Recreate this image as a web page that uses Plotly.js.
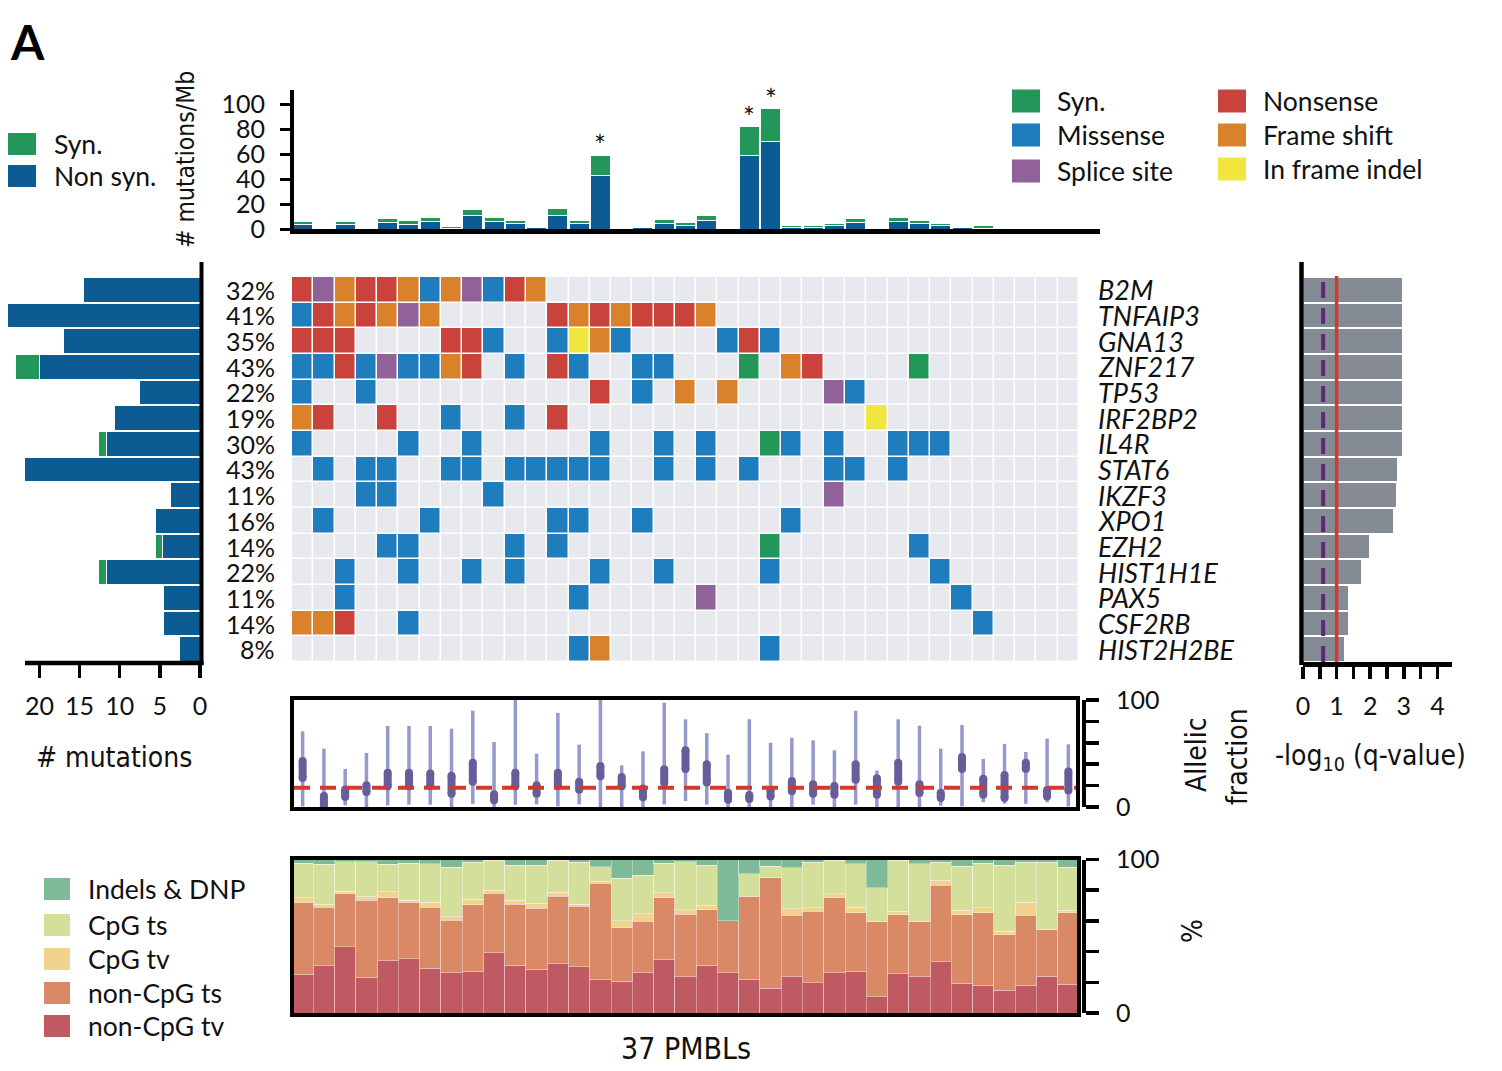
<!DOCTYPE html>
<html><head><meta charset="utf-8">
<script src="https://cdn.plot.ly/plotly-3.0.1.min.js"></script>
<style>html,body{margin:0;padding:0;background:#fff;} #chart{width:1502px;height:1071px;}</style>
</head><body><div id="chart"></div>
<script>
// ---------------- DATA ----------------
const samples = [1,2,3,4,5,6,7,8,9,10,11,12,13,14,15,16,17,18,19,20,21,22,23,24,25,26,27,28,29,30,31,32,33,34,35,36,37];
// mutations / Mb per sample
const tmbNonSyn = [4,0,3.5,0.5,5.3,3.7,6.1,0.5,10.7,6.4,4.5,1.6,10.7,4.3,43,0,1,4.8,2.7,6.7,0,59,70.4,1.3,1.3,3,5.6,0,6.1,4.5,3,1,0.8,0.3,0,0,0];
const tmbSyn    = [2,0,2.5,0.5,3,3,3.2,1.5,4.8,2.6,2.7,0,6.1,2.4,16,0,1.4,2.7,2.3,4.3,0,23,26,1.9,1.7,1.8,2.9,0,3.5,2.2,1.8,0,2.4,0.5,0,0,0];
const hypermutated = [15,22,23];

const genes = ['B2M','TNFAIP3','GNA13','ZNF217','TP53','IRF2BP2','IL4R','STAT6','IKZF3','XPO1','EZH2','HIST1H1E','PAX5','CSF2RB','HIST2H2BE'];
const genePct = ['32%','41%','35%','43%','22%','19%','30%','43%','11%','16%','14%','22%','11%','14%','8%'];
// sample:type  (G syn, M missense, S splice, N nonsense, F frame shift, I in frame indel)
const mut_B2M = '1N 2S 3F 4N 5N 6F 7M 8F 9S 10M 11N 12F';
const mut_TNFAIP3 = '1M 2N 3F 4N 5F 6S 7F 13N 14F 15N 16F 17N 18N 19N 20F';
const mut_GNA13 = '1N 2N 3N 8N 9N 10M 13M 14I 15F 16M 21M 22N 23M';
const mut_ZNF217 = '1M 2M 3N 4M 5S 6M 7M 8F 9N 11M 13N 14M 17M 18M 22G 24F 25N 30G';
const mut_TP53 = '1M 4M 15N 17M 19F 21F 26S 27M';
const mut_IRF2BP2 = '1F 2N 5N 8M 11M 13N 28I';
const mut_IL4R = '1M 6M 9M 15M 18M 20M 23G 24M 26M 29M 30M 31M';
const mut_STAT6 = '2M 4M 5M 8M 9M 11M 12M 13M 14M 15M 18M 20M 22M 26M 27M 29M';
const mut_IKZF3 = '4M 5M 10M 26S';
const mut_XPO1 = '2M 7M 13M 14M 17M 24M';
const mut_EZH2 = '5M 6M 11M 13M 23G 30M';
const mut_HIST1H1E = '3M 6M 9M 11M 15M 18M 23M 31M';
const mut_PAX5 = '3M 14M 20S 32M';
const mut_CSF2RB = '1F 2F 3N 6M 33M';
const mut_HIST2H2BE = '14M 15F 23M';
const geneMuts = [mut_B2M,mut_TNFAIP3,mut_GNA13,mut_ZNF217,mut_TP53,mut_IRF2BP2,mut_IL4R,mut_STAT6,mut_IKZF3,mut_XPO1,mut_EZH2,mut_HIST1H1E,mut_PAX5,mut_CSF2RB,mut_HIST2H2BE];

// # mutations per gene
const geneNonSyn = [14.5,24,17,20,7.5,10.7,11.7,21.8,3.7,5.5,4.7,11.7,4.5,4.5,2.5];
const geneSyn    = [0,0,0,3,0,0,1,0,0,0,0.9,1,0,0,0];
// -log10(q-value)
const geneQ = [2.95,2.95,2.95,2.95,2.95,2.95,2.95,2.81,2.78,2.70,1.99,1.73,1.34,1.34,1.23];
const qCut = 1.0, qCut2 = 0.6;

// allelic fraction (%)
const afMin = [0.6,0,1.5,0,1.5,2.2,2.2,0,3,0,2.2,2.5,0.6,2.5,0,0,0,2.5,5.6,2.2,0,0,0,0,2.2,0,2.2,0,0,0,1.2,0.6,4.4,3,3,4.4,0.6];
const afQ1  = [23.4,-2,5.6,10.3,15.6,15.6,16,8.7,20,2.5,15.6,8.7,15.6,12.5,25,15.6,5.3,18.7,31.8,19.3,3,3.7,6.2,11,8.7,7.8,21.8,7.8,20,9.3,4.7,31.8,7.8,4.7,31.8,6.2,11.8];
const afQ3  = [46.7,14,20,24,35.8,35.8,35,33,45,15.6,35.8,24,35.8,27.4,42,31.8,21,39,56.7,43.6,17,15,19.6,28,25,23.4,43.6,30.5,45,25,17,50.5,30,33.6,45,19.6,36.8];
const afMax = [70.7,54.5,35.5,50.5,75.7,75.7,75.7,73.2,90,60.7,100,49.8,88,58.3,100,39,52,97.5,82,69,49,82,60,64.8,62.3,53,90,34,82,76,54.5,76.6,45,59,51.4,64,58.6];
const afCut = 18;

// mutation spectrum (%)
const specNonCpGtv = [25.1,30.7,43.1,22.9,34.0,35.3,29.0,26.2,27.1,39.2,31.0,28.4,32.0,30.1,21.6,20.8,26.2,34.8,23.6,31.2,26.2,21.9,16.0,23.6,19.7,26.2,27.1,10.6,25.5,23.6,33.5,19.3,18.2,14.9,18.2,24.0,18.8];
const specNonCpGts = [46.8,38.1,34.6,50.5,41.1,36.8,40.0,34.2,43.5,38.9,39.8,40.0,44.2,39.6,63.0,34.8,33.5,40.3,40.7,36.1,33.8,54.3,72.5,40.0,46.5,48.9,38.1,48.7,38.4,35.7,49.8,44.6,47.0,36.0,45.4,30.3,46.4];
const specCpGtv    = [3.2,2.0,1.7,2.4,3.9,1.3,3.3,2.2,3.4,1.8,2.6,3.2,2.4,1.3,1.3,4.4,5.0,3.3,3.0,2.8,0,0,0,4.4,2.4,2.6,3.8,0,2.3,0,3.1,3.0,3.4,2.3,8.7,0,1.7];
const specCpGts    = [22.5,26.0,19.1,22.7,17.8,24.2,24.9,32.4,24.3,19.5,22.9,24.7,20.8,27.3,9.3,27.9,24.9,19.2,31.4,26.2,0,14.5,7.2,26.6,29.7,21.7,28.2,22.3,33.2,37.9,11.9,28.8,29.0,42.9,26.0,44.0,28.1];
const specIndel    = [2.4,3.2,1.5,1.5,3.2,2.4,2.8,5.0,1.7,0.6,3.7,3.7,0.6,1.7,4.8,12.1,10.4,2.4,1.3,3.7,40.0,9.3,4.3,5.4,1.7,0.6,2.8,18.4,0.6,2.8,1.7,4.3,2.4,3.9,1.7,1.7,5.0];

// ---------------- STYLE / GEOMETRY ----------------
const W = 1502, H = 1071;
const COL_PITCH = 21.27, COL_LEFT = 292;
const xr = (a,b)=>[(a-COL_LEFT)/COL_PITCH+0.5,(b-COL_LEFT)/COL_PITCH+0.5];
const dx = (a,b)=>[a/W,b/W];
const dy = (t,b)=>[1-b/H,1-t/H];
const px = x=>x/W, py = y=>1-y/H;
const FONT = 'Lato, "Noto Sans", sans-serif';
const COND = '"Liberation Sans Narrow", "DejaVu Sans Condensed", "Roboto Condensed", Lato, sans-serif';
const C = {syn:'#23965a', nonsyn:'#0c5b92', mis:'#1f7dbd', spl:'#91629a', non:'#c9423c', fs:'#d9822b', inf:'#f1e640', empty:'#e8e9ef',
  grey:'#848b94', red:'#d23a2e', purple:'#5b2a72', afLight:'#949acc', afDark:'#685d9b',
  ntv:'#c05a62', nts:'#d98966', ctv:'#f1d28f', cts:'#d5df9c', ind:'#7eb998'};
const typeCodes = ['.','G','M','S','N','F','I'];
const typeColors = [C.empty,C.syn,C.mis,C.spl,C.non,C.fs,C.inf];
const rows = genes.map((g,i)=>i);

// heatmap matrix
const z = geneMuts.map(s=>{
  const r = samples.map(()=>0);
  s.split(' ').forEach(t=>{ const col=parseInt(t,10); r[col-1]=typeCodes.indexOf(t.replace(/[0-9]/g,'')); });
  return r;
});
const cs = [];
typeColors.forEach((c,k)=>{ cs.push([k/7,c]); cs.push([(k+1)/7,c]); });

// allelic fraction segments
const RAD = 3.7;
const afRX=[], afRY=[], afQX=[], afQY=[];
samples.forEach((s,i)=>{
  afRX.push(s,s,null); afRY.push(afMin[i],afMax[i],null);
  let a=afQ1[i]+RAD, b=afQ3[i]-RAD; if(b<a){const m=(afQ1[i]+afQ3[i])/2;a=m;b=m;}
  afQX.push(s,s,null); afQY.push(a,b,null);
});

const traces = [
  {type:'bar', x:samples, y:tmbNonSyn, xaxis:'x', yaxis:'y', width:0.94, marker:{color:C.nonsyn, line:{color:'#fff',width:1}}, hoverinfo:'skip'},
  {type:'bar', x:samples, y:tmbSyn, xaxis:'x', yaxis:'y', width:0.94, marker:{color:C.syn, line:{color:'#fff',width:1}}, hoverinfo:'skip'},
  {type:'heatmap', x:samples, y:rows, z:z, xaxis:'x2', yaxis:'y2', colorscale:cs, zmin:-0.5, zmax:6.5, showscale:false, xgap:1.5, ygap:1.5, hoverinfo:'skip'},
  {type:'bar', orientation:'h', y:rows, x:geneNonSyn, xaxis:'x3', yaxis:'y3', width:0.95, marker:{color:C.nonsyn, line:{color:'#fff',width:1}}, hoverinfo:'skip'},
  {type:'bar', orientation:'h', y:rows, x:geneSyn, xaxis:'x3', yaxis:'y3', width:0.95, marker:{color:C.syn, line:{color:'#fff',width:1}}, hoverinfo:'skip'},
  {type:'bar', orientation:'h', y:rows, x:geneQ, xaxis:'x4', yaxis:'y4', width:0.95, marker:{color:C.grey, line:{color:'#fff',width:1}}, hoverinfo:'skip'},
  {type:'scatter', mode:'lines', x:afRX, y:afRY, xaxis:'x5', yaxis:'y5', line:{color:C.afLight,width:3.5}, hoverinfo:'skip'},
  {type:'scatter', mode:'lines+markers', x:afQX, y:afQY, xaxis:'x5', yaxis:'y5', line:{color:C.afDark,width:8}, marker:{color:C.afDark,size:8}, hoverinfo:'skip'},
  {type:'scatter', mode:'markers', x:[1], y:[0], xaxis:'x5', yaxis:'y6', marker:{opacity:0}, hoverinfo:'skip'},
];
const specSeries = [[specNonCpGtv,C.ntv],[specNonCpGts,C.nts],[specCpGtv,C.ctv],[specCpGts,C.cts],[specIndel,C.ind]];
specSeries.forEach(([v,c])=>traces.push({type:'bar', x:samples, y:v, xaxis:'x7', yaxis:'y7', width:1, marker:{color:c, line:{color:'rgba(255,255,255,0.35)',width:1}}, hoverinfo:'skip'}));
traces.push({type:'scatter', mode:'markers', x:[1], y:[0], xaxis:'x7', yaxis:'y8', marker:{opacity:0}, hoverinfo:'skip'});

const tf = {family:FONT, size:25, color:'#111'};
const lf = {family:FONT, size:26.5, color:'#111'};
const base = {showgrid:false, zeroline:false, fixedrange:true};
const layout = {
  width:W, height:H, margin:{l:0,r:0,t:0,b:0}, paper_bgcolor:'#fff', plot_bgcolor:'rgba(0,0,0,0)',
  showlegend:false, barmode:'stack', font:tf,
  xaxis: Object.assign({}, base, {domain:dx(294,1100), range:xr(294,1100), anchor:'y', showline:true, linewidth:4.5, linecolor:'#000', ticks:'', showticklabels:false}),
  yaxis: Object.assign({}, base, {domain:dy(90,229), range:[0,111.2], anchor:'x', showline:true, linewidth:4, linecolor:'#000', ticks:'outside', ticklen:10, tickwidth:3, tickcolor:'#000', tickvals:[0,20,40,60,80,100], tickfont:tf, ticklabelstandoff:10}),
  xaxis2: Object.assign({}, base, {domain:dx(292,1079), range:xr(292,1079), anchor:'y2', visible:false}),
  yaxis2: Object.assign({}, base, {domain:dy(277,662), range:[14.5,-0.5], anchor:'x2', visible:false}),
  xaxis3: Object.assign({}, base, {domain:dx(0,200), range:[200/8.03,0], anchor:'y3', showline:false, ticks:'outside', ticklen:15, tickwidth:3.5, tickcolor:'#000', tickvals:[0,5,10,15,20], tickfont:tf, ticklabelstandoff:7}),
  yaxis3: Object.assign({}, base, {domain:dy(277,662), range:[14.5,-0.5], anchor:'x3', visible:false}),
  xaxis4: Object.assign({}, base, {domain:dx(1303,1452), range:[0,149/33.6], anchor:'y4', showline:true, linewidth:4.5, linecolor:'#000', ticks:'outside', ticklen:12, tickwidth:3.5, tickcolor:'#000', tickvals:[0,0.5,1,1.5,2,2.5,3,3.5,4], ticktext:['0','','1','','2','','3','','4'], tickfont:tf, ticklabelstandoff:6}),
  yaxis4: Object.assign({}, base, {domain:dy(277,662), range:[14.5,-0.5], anchor:'x4', visible:false}),
  xaxis5: Object.assign({}, base, {domain:dx(294,1076), range:xr(294,1076), anchor:'y5', showline:true, mirror:true, linewidth:4, linecolor:'#000', ticks:'', showticklabels:false}),
  yaxis5: Object.assign({}, base, {domain:dy(700,807), range:[0,100], anchor:'x5', showline:true, mirror:true, linewidth:4, linecolor:'#000', ticks:'', showticklabels:false}),
  yaxis6: Object.assign({}, base, {overlaying:'y5', side:'right', anchor:'free', position:1084/W, range:[0,100], showline:true, linewidth:4, linecolor:'#000', ticks:'outside', ticklen:13, tickwidth:3.5, tickcolor:'#000', tickvals:[0,20,40,60,80,100], ticktext:['0','','','','','100'], tickfont:tf, ticklabelstandoff:12}),
  xaxis7: Object.assign({}, base, {domain:dx(294,1077), range:xr(294,1077), anchor:'y7', showline:true, mirror:true, linewidth:4, linecolor:'#000', ticks:'', showticklabels:false}),
  yaxis7: Object.assign({}, base, {domain:dy(859.5,1013), range:[0,100], anchor:'x7', showline:true, mirror:true, linewidth:4, linecolor:'#000', ticks:'', showticklabels:false}),
  yaxis8: Object.assign({}, base, {overlaying:'y7', side:'right', anchor:'free', position:1084/W, range:[0,100], showline:true, linewidth:4, linecolor:'#000', ticks:'outside', ticklen:13, tickwidth:3.5, tickcolor:'#000', tickvals:[0,20,40,60,80,100], ticktext:['0','','','','','100'], tickfont:tf, ticklabelstandoff:12}),
  shapes:[], annotations:[]
};

const S = layout.shapes, A = layout.annotations;
// axis lines of side panels
S.push({type:'line', xref:'paper', yref:'paper', x0:px(201.5), x1:px(201.5), y0:py(262), y1:py(665), line:{color:'#000',width:4}});
S.push({type:'line', xref:'paper', yref:'paper', x0:px(25), x1:px(203.5), y0:py(663), y1:py(663), line:{color:'#000',width:4.5}});
S.push({type:'line', xref:'paper', yref:'paper', x0:px(1301.5), x1:px(1301.5), y0:py(262), y1:py(665), line:{color:'#000',width:4.5}});
// thresholds
S.push({type:'line', xref:'x4', yref:'paper', x0:qCut, x1:qCut, y0:py(662), y1:py(276), line:{color:C.red,width:3.5}});
S.push({type:'line', xref:'x4', yref:'paper', x0:qCut2, x1:qCut2, y0:py(662), y1:py(276), line:{color:C.purple,width:4,dash:'16px,10px'}});
S.push({type:'line', xref:'x5', yref:'y5', x0:xr(294,1076)[0], x1:xr(294,1076)[1], y0:afCut, y1:afCut, line:{color:C.red,width:4,dash:'16px,10px'}});

function ann(text,x,y,o){ return Object.assign({text:text, x:px(x), y:py(y), xref:'paper', yref:'paper', showarrow:false, xanchor:'left', yanchor:'middle', font:Object.assign({},lf)}, o||{}); }
function box(x0,y0,x1,y1,c){ S.push({type:'rect', xref:'paper', yref:'paper', x0:px(x0), x1:px(x1), y0:py(y0), y1:py(y1), fillcolor:c, line:{width:0}}); }

// stars on hypermutated samples
hypermutated.forEach(s=>A.push({text:'*', x:s, y:tmbNonSyn[s-1]+tmbSyn[s-1], xref:'x', yref:'y', showarrow:false, yanchor:'bottom', yshift:-9, font:{family:FONT,size:28,color:'#111'}}));
// gene labels & percentages
genes.forEach((g,i)=>{
  A.push({text:'<i>'+g+'</i>', x:px(1096), y:i, xref:'paper', yref:'y2', showarrow:false, xanchor:'left', yanchor:'middle', font:{family:FONT,size:27,color:'#111'}});
  A.push({text:genePct[i], x:px(277), y:i, xref:'paper', yref:'y2', showarrow:false, xanchor:'right', yanchor:'middle', font:Object.assign({},tf)});
});

// panel letter
A.push(ann('<b>A</b>', 8, 42, {font:{family:FONT,size:48,color:'#000'}}));
// legends
box(8,133,36,155,C.syn); box(8,165,36,187,C.nonsyn);
A.push(ann('Syn.',52,144)); A.push(ann('Non syn.',52,176));
const legR1 = [['Syn.',C.syn,101],['Missense',C.mis,135],['Splice site',C.spl,171]];
const legR2 = [['Nonsense',C.non,101],['Frame shift',C.fs,135],['In frame indel',C.inf,169]];
legR1.forEach(([t,c,y])=>{ box(1012,y-11.5,1040,y+11.5,c); A.push(ann(t,1055,y)); });
legR2.forEach(([t,c,y])=>{ box(1218,y-11.5,1246,y+11.5,c); A.push(ann(t,1261,y)); });
const legB = [['Indels &amp; DNP',C.ind,889],['CpG ts',C.cts,925],['CpG tv',C.ctv,959],['non-CpG ts',C.nts,993],['non-CpG tv',C.ntv,1026]];
legB.forEach(([t,c,y])=>{ box(44,y-11,70,y+11,c); A.push(ann(t,86,y)); });

// axis titles
const cf = {family:COND, size:28, color:'#111'};
A.push(ann('# mutations/Mb',185,160,{xanchor:'center', textangle:-90, font:{family:COND,size:24.5,color:'#111'}}));
A.push(ann('# mutations',114,757,{xanchor:'center', font:cf}));
A.push(ann('-log<sub>10</sub> (q-value)',1370,757,{xanchor:'center', font:cf}));
A.push(ann('Allelic',1196,755,{xanchor:'center', textangle:-90, font:cf}));
A.push(ann('fraction',1237,757,{xanchor:'center', textangle:-90, font:cf}));
A.push(ann('%',1192,931,{xanchor:'center', textangle:-90, font:cf}));
A.push(ann('37 PMBLs',686,1048,{xanchor:'center', font:{family:COND,size:30,color:'#111'}}));

Plotly.newPlot('chart', traces, layout, {staticPlot:true, displayModeBar:false});
</script></body></html>
